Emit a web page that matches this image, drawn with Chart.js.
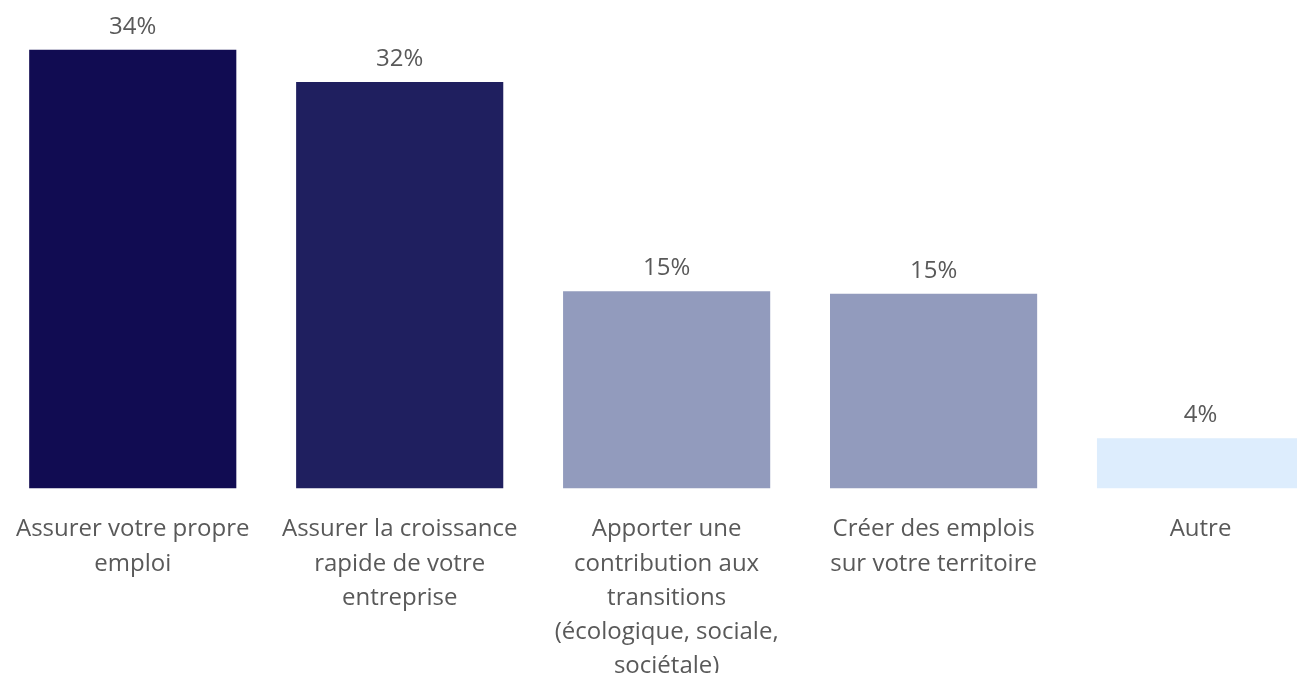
<!DOCTYPE html>
<html>
<head>
<meta charset="utf-8">
<script src="https://cdn.jsdelivr.net/npm/chart.js@4"></script>
<style>
  html, body { margin: 0; padding: 0; background: #ffffff; overflow: hidden; width: 1297px; height: 673px; }
  #wrap { position: absolute; left: -8px; top: 0; width: 1342px; height: 707px; }
</style>
</head>
<body>
<div id="wrap"><canvas id="c" width="1342" height="707"></canvas></div>
<script>
const categories = [
  ["Assurer votre propre", "emploi"],
  ["Assurer la croissance", "rapide de votre", "entreprise"],
  ["Apporter une", "contribution aux", "transitions", "(écologique, sociale,", "sociétale)"],
  ["Créer des emplois", "sur votre territoire"],
  ["Autre"]
];
const values = [34, 31.5, 15.3, 15.1, 3.9];
const valueLabels = ["34%", "32%", "15%", "15%", "4%"];
const barColors = ["#110c52", "#1f1f5f", "#929bbd", "#929bbd", "#ddedfd"];

const FONT = "'Open Sans', sans-serif";
const TEXT = "#595959";

const valueLabelPlugin = {
  id: 'valueLabels',
  afterDatasetsDraw(chart) {
    const ctx = chart.ctx;
    const meta = chart.getDatasetMeta(0);
    ctx.save();
    ctx.font = "24px " + FONT;
    ctx.fillStyle = TEXT;
    ctx.textAlign = 'center';
    ctx.textBaseline = 'middle';
    meta.data.forEach((bar, i) => {
      ctx.fillText(valueLabels[i], bar.x, bar.y - 23);
    });
    ctx.restore();
  }
};

new Chart(document.getElementById('c'), {
  type: 'bar',
  data: {
    labels: categories,
    datasets: [{
      data: values,
      backgroundColor: barColors,
      borderWidth: 0,
      barPercentage: 0.776,
      categoryPercentage: 1
    }]
  },
  options: {
    responsive: false,
    animation: false,
    layout: { padding: { top: 24, left: 0, right: 0, bottom: 0 } },
    plugins: { legend: { display: false }, tooltip: { enabled: false }, title: { display: false } },
    scales: {
      x: {
        grid: { display: false, drawTicks: false },
        border: { display: false },
        ticks: {
          color: TEXT,
          font: { family: FONT, size: 24, lineHeight: 1.42 },
          padding: 24,
          maxRotation: 0,
          autoSkip: false
        }
      },
      y: {
        display: false,
        min: 0,
        max: 36
      }
    }
  },
  plugins: [valueLabelPlugin]
});
</script>
</body>
</html>
